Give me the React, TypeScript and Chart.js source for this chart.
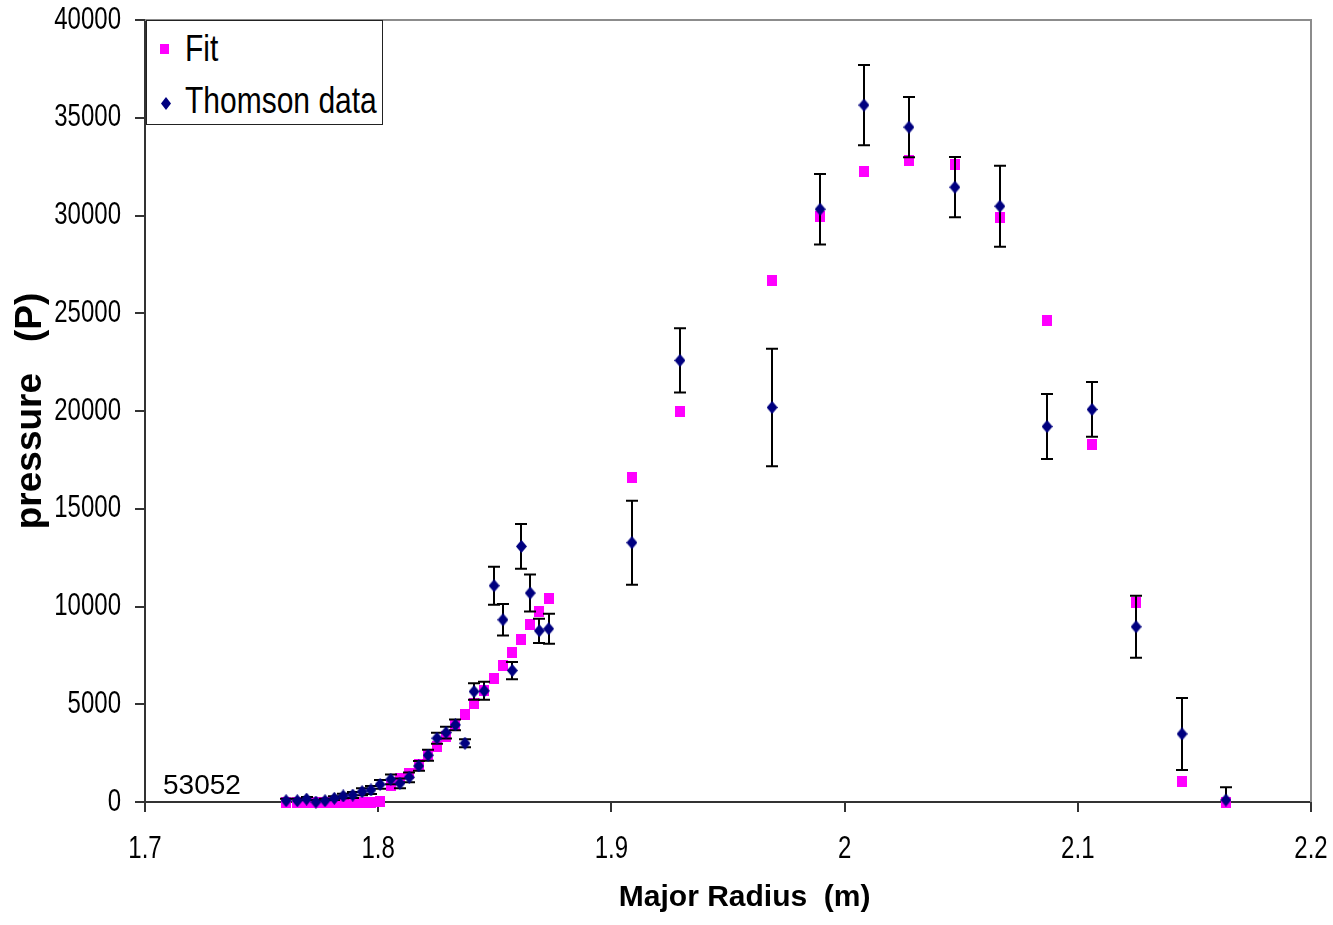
import React, { useEffect, useRef } from "react";
import { Chart, registerables } from "chart.js";

Chart.register(...registerables);

// Major radius (m) of each Thomson channel (fit evaluated at the same radii)
const radius = [
  1.7605, 1.7653, 1.7693, 1.7733, 1.7772, 1.7812, 1.785, 1.7891, 1.7931, 1.7969,
  1.8008, 1.8054, 1.8093, 1.8133, 1.8174, 1.8214, 1.8252, 1.8291, 1.8331, 1.8372,
  1.8411, 1.8455, 1.8497, 1.8535, 1.8575, 1.8614, 1.8652, 1.8691, 1.8731, 1.9088,
  1.9294, 1.9689, 1.9895, 2.0083, 2.0276, 2.0473, 2.0666, 2.0868, 2.1061, 2.125,
  2.1447, 2.1635,
];

// Thomson data pressure (P)
const thomsonPressure = [
  66, 66, 150, 0, 66, 190, 307, 358, 528, 614,
  900, 1163, 957, 1265, 1844, 2392, 3262, 3550, 3944, 3006,
  5650, 5685, 11063, 9321, 6725, 13075, 10689, 8758, 8860, 13265,
  22587, 20180, 30320, 35647, 34520, 31447, 30474, 19206, 20077, 8963,
  3483, 100,
];

// Error bar half-widths
const thomsonError = [
  100, 100, 100, 100, 100, 100, 120, 150, 180, 200,
  220, 250, 250, 250, 250, 280, 280, 300, 280, 200,
  420, 460, 970, 810, 440, 1150, 950, 620, 770, 2150,
  1640, 3000, 1800, 2050, 1540, 1540, 2070, 1660, 1400, 1590,
  1840, 660,
];

// Fit pressure (P)
const fitPressure = [
  0, 0, 0, 0, 0, 0, 0, 0, 0, 0,
  30, 820, 1213, 1470, 1895, 2356, 2832, 3344, 3944, 4490,
  5055, 5685, 6300, 6980, 7647, 8333, 9100, 9746, 10430, 16594,
  19975, 26684, 29962, 32266, 32830, 32625, 29910, 24635, 18284, 10192,
  1024, 0,
];

const xMin = 1.7;
const xMax = 2.2;
const xStep = 0.1;
const yMin = 0;
const yMax = 40000;
const yStep = 5000;

const FONT = '"Liberation Sans", Arial, Helvetica, sans-serif';
const NAVY = "#000080";
const MAGENTA = "#FF00FF";
const TICK_STRETCH = 1.3;

function fmtX(v: number) {
  return String(parseFloat(Number(v).toFixed(2)));
}

function makeMarker(w: number, h: number, color: string, shape: string) {
  const c = document.createElement("canvas");
  c.width = w;
  c.height = h;
  const ctx = c.getContext("2d")!;
  ctx.fillStyle = color;
  if (shape === "diamond") {
    ctx.beginPath();
    ctx.moveTo(w / 2, 0);
    ctx.lineTo(w, h / 2);
    ctx.lineTo(w / 2, h);
    ctx.lineTo(0, h / 2);
    ctx.closePath();
    ctx.fill();
  } else {
    ctx.fillRect(0, 0, w, h);
  }
  return c;
}

const errorBarPlugin = {
  id: "errorBars",
  beforeDatasetDraw(chart: any, args: any) {
    if (args.index !== 0) return;
    const { ctx, chartArea, scales } = chart;
    const xs = scales.x;
    const ys = scales.y;
    ctx.save();
    ctx.beginPath();
    ctx.rect(chartArea.left, chartArea.top - 2, chartArea.right - chartArea.left, chartArea.bottom - chartArea.top + 1);
    ctx.clip();
    ctx.strokeStyle = "#000";
    ctx.lineWidth = 2;
    radius.forEach((r, i) => {
      const px = Math.round(xs.getPixelForValue(r));
      const top = ys.getPixelForValue(thomsonPressure[i] + thomsonError[i]);
      const bot = ys.getPixelForValue(thomsonPressure[i] - thomsonError[i]);
      ctx.beginPath();
      ctx.moveTo(px, top);
      ctx.lineTo(px, bot);
      ctx.moveTo(px - 6, top);
      ctx.lineTo(px + 6, top);
      ctx.moveTo(px - 6, bot);
      ctx.lineTo(px + 6, bot);
      ctx.stroke();
    });
    ctx.restore();
  },
};

const framePlugin = {
  id: "frame",
  beforeDatasetsDraw(chart: any) {
    const { ctx, chartArea } = chart;
    ctx.save();
    ctx.strokeStyle = "#8c8c8c";
    ctx.lineWidth = 2;
    ctx.beginPath();
    ctx.moveTo(chartArea.left, chartArea.top);
    ctx.lineTo(chartArea.right, chartArea.top);
    ctx.lineTo(chartArea.right, chartArea.bottom);
    ctx.stroke();
    ctx.restore();
  },
};

// Tick labels drawn from the scales' own ticks, in the tall/narrow look of the original
const tickLabelPlugin = {
  id: "tallTickLabels",
  afterDraw(chart: any) {
    const { ctx, chartArea, scales } = chart;
    ctx.save();
    ctx.fillStyle = "#000";
    ctx.font = `24px ${FONT}`;
    ctx.textBaseline = "middle";
    ctx.textAlign = "right";
    scales.y.ticks.forEach((t: any) => {
      const py = scales.y.getPixelForValue(t.value);
      ctx.save();
      ctx.translate(chartArea.left - 24, py);
      ctx.scale(1, TICK_STRETCH);
      ctx.fillText(String(t.value), 0, 0);
      ctx.restore();
    });
    ctx.textAlign = "center";
    scales.x.ticks.forEach((t: any) => {
      const px = scales.x.getPixelForValue(t.value);
      ctx.save();
      ctx.translate(px, chartArea.bottom + 47);
      ctx.scale(1, TICK_STRETCH);
      ctx.fillText(fmtX(t.value), 0, 0);
      ctx.restore();
    });
    ctx.restore();
  },
};

export default function App() {
  const canvasRef = useRef<HTMLCanvasElement | null>(null);

  useEffect(() => {
    if (!canvasRef.current) return;
    const diamond = makeMarker(11, 13, NAVY, "diamond");
    const square = makeMarker(10, 11, MAGENTA, "square");

    const chart = new Chart(canvasRef.current, {
      type: "scatter",
      data: {
        datasets: [
          {
            label: "Thomson data",
            data: radius.map((r, i) => ({ x: r, y: thomsonPressure[i] })),
            pointStyle: diamond as any,
            backgroundColor: NAVY,
            borderColor: NAVY,
            showLine: false,
            clip: false as any,
          },
          {
            label: "Fit",
            data: radius.map((r, i) => ({ x: r, y: fitPressure[i] })),
            pointStyle: square as any,
            backgroundColor: MAGENTA,
            borderColor: MAGENTA,
            showLine: false,
            clip: false as any,
          },
        ],
      },
      options: {
        animation: false,
        responsive: false,
        devicePixelRatio: 1,
        layout: { autoPadding: false, padding: { left: 0, right: 22, top: 20, bottom: 0 } },
        plugins: {
          legend: { display: false },
          tooltip: { enabled: false },
        },
        scales: {
          x: {
            type: "linear",
            min: xMin,
            max: xMax,
            ticks: {
              display: false,
              stepSize: xStep,
              autoSkip: false,
              callback: (v: any) => fmtX(v),
            },
            grid: {
              drawOnChartArea: false,
              drawTicks: true,
              tickLength: 10,
              color: "#333",
              lineWidth: 2,
            },
            border: { color: "#333", width: 2 },
            title: {
              display: true,
              text: "    Major Radius  (m)",
              color: "#000",
              font: { family: FONT, size: 30, weight: "bold" },
              padding: { top: 9, bottom: 9 },
            },
            afterFit: (s: any) => {
              s.height = 123;
            },
          },
          y: {
            type: "linear",
            min: yMin,
            max: yMax,
            ticks: {
              display: false,
              stepSize: yStep,
              callback: (v: any) => String(v),
            },
            grid: {
              drawOnChartArea: false,
              drawTicks: true,
              tickLength: 10,
              color: "#333",
              lineWidth: 2,
            },
            border: { color: "#333", width: 2 },
            title: {
              display: true,
              text: "pressure   (P)",
              color: "#000",
              font: { family: FONT, size: 37, weight: "bold" },
              padding: { top: 9, bottom: 9 },
            },
            afterFit: (s: any) => {
              s.width = 145;
            },
          },
        },
      } as any,
      plugins: [errorBarPlugin, framePlugin, tickLabelPlugin],
    });
    return () => chart.destroy();
  }, []);

  const legendText: React.CSSProperties = {
    position: "absolute",
    fontFamily: FONT,
    fontSize: 30,
    lineHeight: "30px",
    color: "#000",
    whiteSpace: "nowrap",
    transform: "scaleY(1.24)",
    transformOrigin: "left top",
  };

  return (
    <div style={{ position: "absolute", left: 0, top: 0, width: 1333, height: 925, background: "#fff" }}>
      <canvas ref={canvasRef} width={1333} height={925} style={{ display: "block" }} />
      <div
        style={{
          position: "absolute",
          left: 146,
          top: 20,
          width: 237,
          height: 105,
          border: "1px solid #222",
          background: "#fff",
          boxSizing: "border-box",
        }}
      />
      <div style={{ position: "absolute", left: 160, top: 44, width: 9, height: 10, background: MAGENTA }} />
      <span style={{ ...legendText, left: 185, top: 29.5 }}>Fit</span>
      <svg style={{ position: "absolute", left: 161, top: 97 }} width={10} height={13}>
        <polygon points="5,0 10,6.5 5,13 0,6.5" fill={NAVY} />
      </svg>
      <span style={{ ...legendText, left: 185, top: 82 }}>Thomson data</span>
      <span
        style={{
          position: "absolute",
          left: 163,
          top: 771,
          fontFamily: FONT,
          fontSize: 28,
          lineHeight: "28px",
          color: "#000",
          whiteSpace: "nowrap",
        }}
      >
        53052
      </span>
    </div>
  );
}
